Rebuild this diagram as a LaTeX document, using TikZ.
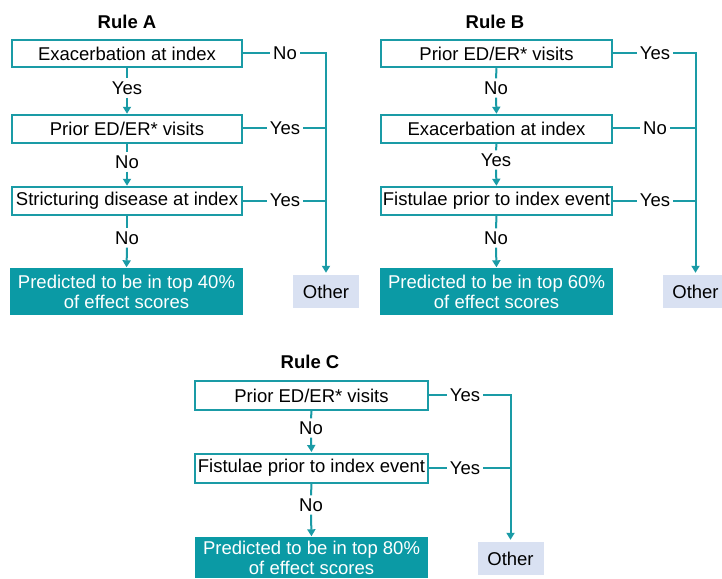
\documentclass[tikz,border=0pt]{standalone}
\usepackage{fontspec}
\setmainfont{Liberation Sans}
\usetikzlibrary{arrows.meta}
\definecolor{tealline}{HTML}{1A9BA6}
\definecolor{tealfill}{HTML}{0B9AA5}
\definecolor{otherfill}{HTML}{D9E1F2}
\begin{document}
\begin{tikzpicture}[x=1pt,y=-1pt,
  font=\fontsize{18.5}{20}\selectfont,
  qbox/.style={draw=tealline,line width=2pt,fill=white,minimum height=27.5pt,inner sep=0pt},
  resbox/.style={fill=tealfill,text=white,align=center,inner sep=0pt,minimum height=47pt},
  othbox/.style={fill=otherfill,inner sep=0pt,minimum width=66pt,minimum height=33pt},
  lbl/.style={inner sep=3pt},
  ttl/.style={font=\fontsize{18.5}{20}\selectfont\bfseries},
  conn/.style={draw=tealline,line width=2pt},
  arr/.style={conn,-{Triangle[width=8pt,length=7pt]},shorten >=0.5pt},
]
\useasboundingbox (0,0) rectangle (722,578);
\clip (0,0) rectangle (722,578);

% ---------- Rule A ----------
\node[ttl] (tA) at (127,22) {Rule A};
\node[qbox,minimum width=230pt] (a1) at (127,53.5) {Exacerbation at index};
\node[qbox,minimum width=230pt] (a2) at (127,129) {Prior ED/ER* visits};
\node[qbox,minimum width=230pt] (a3) at (127,201) {Stricturing disease at index};
\node[resbox,minimum width=233pt] (aR) at (126.5,291.5) {Predicted to be in top 40\%\\of effect scores};
\node[othbox] (aO) at (326,291.5) {Other};
\node[lbl] (aL1) at (127,88) {Yes};
\node[lbl] (aL2) at (127,162) {No};
\node[lbl] (aL3) at (127,238) {No};
\node[lbl] (aS1) at (285,53.5) {No};
\node[lbl] (aS2) at (285,128) {Yes};
\node[lbl] (aS3) at (285,200.5) {Yes};
\draw[conn] (a1.south) -- (aL1.north);
\draw[arr] (aL1.south) -- (a2.north);
\draw[conn] (a2.south) -- (aL2.north);
\draw[arr] (aL2.south) -- (a3.north);
\draw[conn] (a3.south) -- (aL3.north);
\draw[arr] (aL3.south) -- (aR.north);
\draw[conn] (a1.east) -- (aS1.west);
\draw[conn] (a2.east |- aS2.west) -- (aS2.west);
\draw[conn] (a3.east |- aS3.west) -- (aS3.west);
\draw[arr,shorten >=2pt] (aS1.east) -| (aO.north);
\draw[conn] (aS2.east) -- (aS2.east -| aO.north);
\draw[conn] (aS3.east) -- (aS3.east -| aO.north);

% ---------- Rule B ----------
\node[ttl] (tB) at (495,22) {Rule B};
\node[qbox,minimum width=231pt] (b1) at (496.5,53.5) {Prior ED/ER* visits};
\node[qbox,minimum width=231pt] (b2) at (496.5,129) {Exacerbation at index};
\node[qbox,minimum width=231pt] (b3) at (496.5,201) {Fistulae prior to index event};
\node[resbox,minimum width=233pt] (bR) at (496.5,291.5) {Predicted to be in top 60\%\\of effect scores};
\node[othbox] (bO) at (695.5,291.5) {Other};
\node[lbl] (bL1) at (496,88) {No};
\node[lbl] (bL2) at (496,160) {Yes};
\node[lbl] (bL3) at (496,238) {No};
\node[lbl] (bS1) at (655,53) {Yes};
\node[lbl] (bS2) at (655,128) {No};
\node[lbl] (bS3) at (655,200.5) {Yes};
\draw[conn] (b1.south) -- (bL1.north);
\draw[arr] (bL1.south) -- (b2.north);
\draw[conn] (b2.south) -- (bL2.north);
\draw[arr] (bL2.south) -- (b3.north);
\draw[conn] (b3.south) -- (bL3.north);
\draw[arr] (bL3.south) -- (bR.north);
\draw[conn] (b1.east |- bS1.west) -- (bS1.west);
\draw[conn] (b2.east |- bS2.west) -- (bS2.west);
\draw[conn] (b3.east |- bS3.west) -- (bS3.west);
\draw[arr,shorten >=2pt] (bS1.east) -| (bO.north);
\draw[conn] (bS2.east) -- (bS2.east -| bO.north);
\draw[conn] (bS3.east) -- (bS3.east -| bO.north);

% ---------- Rule C ----------
\node[ttl] (tC) at (310,362) {Rule C};
\node[qbox,minimum width=233pt,minimum height=29pt] (c1) at (311.5,395.5) {Prior ED/ER* visits};
\node[qbox,minimum width=233pt,minimum height=29pt] (c2) at (311.5,468) {Fistulae prior to index event};
\node[resbox,minimum width=233pt,minimum height=41pt] (cR) at (311.5,557.5) {Predicted to be in top 80\%\\of effect scores};
\node[othbox] (cO) at (510.5,558.5) {Other};
\node[lbl] (cL1) at (311,428) {No};
\node[lbl] (cL2) at (311,505) {No};
\node[lbl] (cS1) at (465,395) {Yes};
\node[lbl] (cS2) at (465,468) {Yes};
\draw[conn] (c1.south) -- (cL1.north);
\draw[arr] (cL1.south) -- (c2.north);
\draw[conn] (c2.south) -- (cL2.north);
\draw[arr] (cL2.south) -- (cR.north);
\draw[conn] (c1.east |- cS1.west) -- (cS1.west);
\draw[conn] (c2.east |- cS2.west) -- (cS2.west);
\draw[arr,shorten >=2pt] (cS1.east) -| (cO.north);
\draw[conn] (cS2.east) -- (cS2.east -| cO.north);
\end{tikzpicture}
\end{document}
